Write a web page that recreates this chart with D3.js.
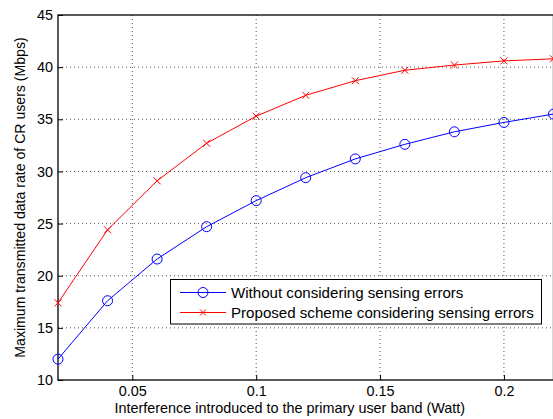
<!DOCTYPE html>
<html>
<head>
<meta charset="utf-8">
<script src="https://cdn.jsdelivr.net/npm/d3@7"></script>
<style>
  body { margin: 0; background: #fff; }
  text { font-family: "Liberation Sans", Arial, sans-serif; fill: #000; }
</style>
</head>
<body>
<svg></svg>
<script>
var width = 553,
    height = 419;

// data
var interference = [0.02, 0.04, 0.06, 0.08, 0.10, 0.12, 0.14, 0.16, 0.18, 0.20, 0.22];
var withoutErrors = [12.0, 17.6, 21.6, 24.7, 27.2, 29.4, 31.2, 32.6, 33.8, 34.7, 35.5];
var proposedScheme = [17.4, 24.4, 29.1, 32.7, 35.3, 37.3, 38.7, 39.7, 40.2, 40.6, 40.8];
var xTicks = [0.05, 0.1, 0.15, 0.2];
var yTicks = [10, 15, 20, 25, 30, 35, 40, 45];
var seriesNames = ["Without considering sensing errors", "Proposed scheme considering sensing errors"];

var margin = { left: 58, top: 15, right: 0, bottom: 39 };

var svg = d3.select("svg")
    .attr("width", width)
    .attr("height", height);

var x = d3.scaleLinear().domain([0.02, 0.22]).range([margin.left, 553.5]);
var y = d3.scaleLinear().domain([10, 45]).range([height - margin.bottom, margin.top]);

var plotTop = y(45), plotBottom = y(10), plotLeft = x(0.02), plotRight = x(0.22);

// grid
var grid = svg.append("g").attr("class", "grid");
grid.selectAll(".vgrid")
    .data(xTicks)
    .enter().append("line")
    .attr("x1", function (d) { return x(d); })
    .attr("x2", function (d) { return x(d); })
    .attr("y1", plotTop)
    .attr("y2", plotBottom)
    .attr("stroke", "#555")
    .attr("stroke-width", 1)
    .attr("stroke-dasharray", "1,3");
grid.selectAll(".hgrid")
    .data(yTicks.slice(1, -1))
    .enter().append("line")
    .attr("x1", plotLeft)
    .attr("x2", plotRight)
    .attr("y1", function (d) { return y(d); })
    .attr("y2", function (d) { return y(d); })
    .attr("stroke", "#555")
    .attr("stroke-width", 1)
    .attr("stroke-dasharray", "1,3");

// axes (ticks pointing inward)
var xAxis = d3.axisBottom(x).tickValues(xTicks).tickSize(-5).tickPadding(6)
    .tickFormat(function (d) { return String(d); });
var yAxis = d3.axisLeft(y).tickValues(yTicks).tickSize(-5).tickPadding(5);

var gx = svg.append("g")
    .attr("transform", "translate(0," + plotBottom + ")")
    .call(xAxis);
var gy = svg.append("g")
    .attr("transform", "translate(" + plotLeft + ",0)")
    .call(yAxis);

[gx, gy].forEach(function (g) {
    g.select(".domain").remove();
    g.selectAll("line").attr("stroke", "#000");
    g.selectAll("text").style("font-size", "14.4px").attr("fill", "#000");
});

// frame
svg.append("rect")
    .attr("x", plotLeft)
    .attr("y", plotTop)
    .attr("width", plotRight - plotLeft)
    .attr("height", plotBottom - plotTop)
    .attr("fill", "none")
    .attr("stroke", "#000")
    .attr("stroke-width", 1.3);

// series
var line = d3.line()
    .x(function (d) { return x(d[0]); })
    .y(function (d) { return y(d[1]); });

var blueData = d3.zip(interference, withoutErrors);
var redData = d3.zip(interference, proposedScheme);

svg.append("path")
    .datum(blueData)
    .attr("d", line)
    .attr("fill", "none")
    .attr("stroke", "#0000ff")
    .attr("stroke-width", 1);

svg.selectAll(".circ")
    .data(blueData)
    .enter().append("circle")
    .attr("cx", function (d) { return x(d[0]); })
    .attr("cy", function (d) { return y(d[1]); })
    .attr("r", 5)
    .attr("fill", "none")
    .attr("stroke", "#0000ff")
    .attr("stroke-width", 1);

svg.append("path")
    .datum(redData)
    .attr("d", line)
    .attr("fill", "none")
    .attr("stroke", "#ff0000")
    .attr("stroke-width", 1);

function crossPath(cx, cy, s) {
    return "M" + (cx - s) + "," + (cy - s) + "L" + (cx + s) + "," + (cy + s) +
        "M" + (cx - s) + "," + (cy + s) + "L" + (cx + s) + "," + (cy - s);
}

svg.selectAll(".cross")
    .data(redData)
    .enter().append("path")
    .attr("d", function (d) { return crossPath(x(d[0]), y(d[1]), 3.5); })
    .attr("fill", "none")
    .attr("stroke", "#ff0000")
    .attr("stroke-width", 1);

// labels
svg.append("text")
    .attr("x", (plotLeft + plotRight) / 2 - 16)
    .attr("y", 413)
    .attr("text-anchor", "middle")
    .style("font-size", "14.4px")
    .text("Interference introduced to the primary user band (Watt)");

svg.append("text")
    .attr("transform", "translate(25," + ((plotTop + plotBottom) / 2) + ") rotate(-90)")
    .attr("text-anchor", "middle")
    .style("font-size", "14.1px")
    .text("Maximum transmitted data rate of CR users (Mbps)");

// legend
var legend = svg.append("g").attr("class", "legend");
legend.append("rect")
    .attr("x", 170.5)
    .attr("y", 279.5)
    .attr("width", 371)
    .attr("height", 44.5)
    .attr("fill", "#fff")
    .attr("stroke", "#000")
    .attr("stroke-width", 1);

var legendColors = ["#0000ff", "#ff0000"];
seriesNames.forEach(function (name, i) {
    var ly = 292.5 + i * 20;
    legend.append("line")
        .attr("x1", 180).attr("x2", 226)
        .attr("y1", ly).attr("y2", ly)
        .attr("stroke", legendColors[i])
        .attr("stroke-width", 1);
    if (i === 0) {
        legend.append("circle")
            .attr("cx", 203).attr("cy", ly).attr("r", 5)
            .attr("fill", "none").attr("stroke", legendColors[i]);
    } else {
        legend.append("path")
            .attr("d", crossPath(203, ly, 3))
            .attr("fill", "none").attr("stroke", legendColors[i]);
    }
    legend.append("text")
        .attr("x", 231)
        .attr("y", ly + 5)
        .style("font-size", "15.1px")
        .text(name);
});
</script>
</body>
</html>
